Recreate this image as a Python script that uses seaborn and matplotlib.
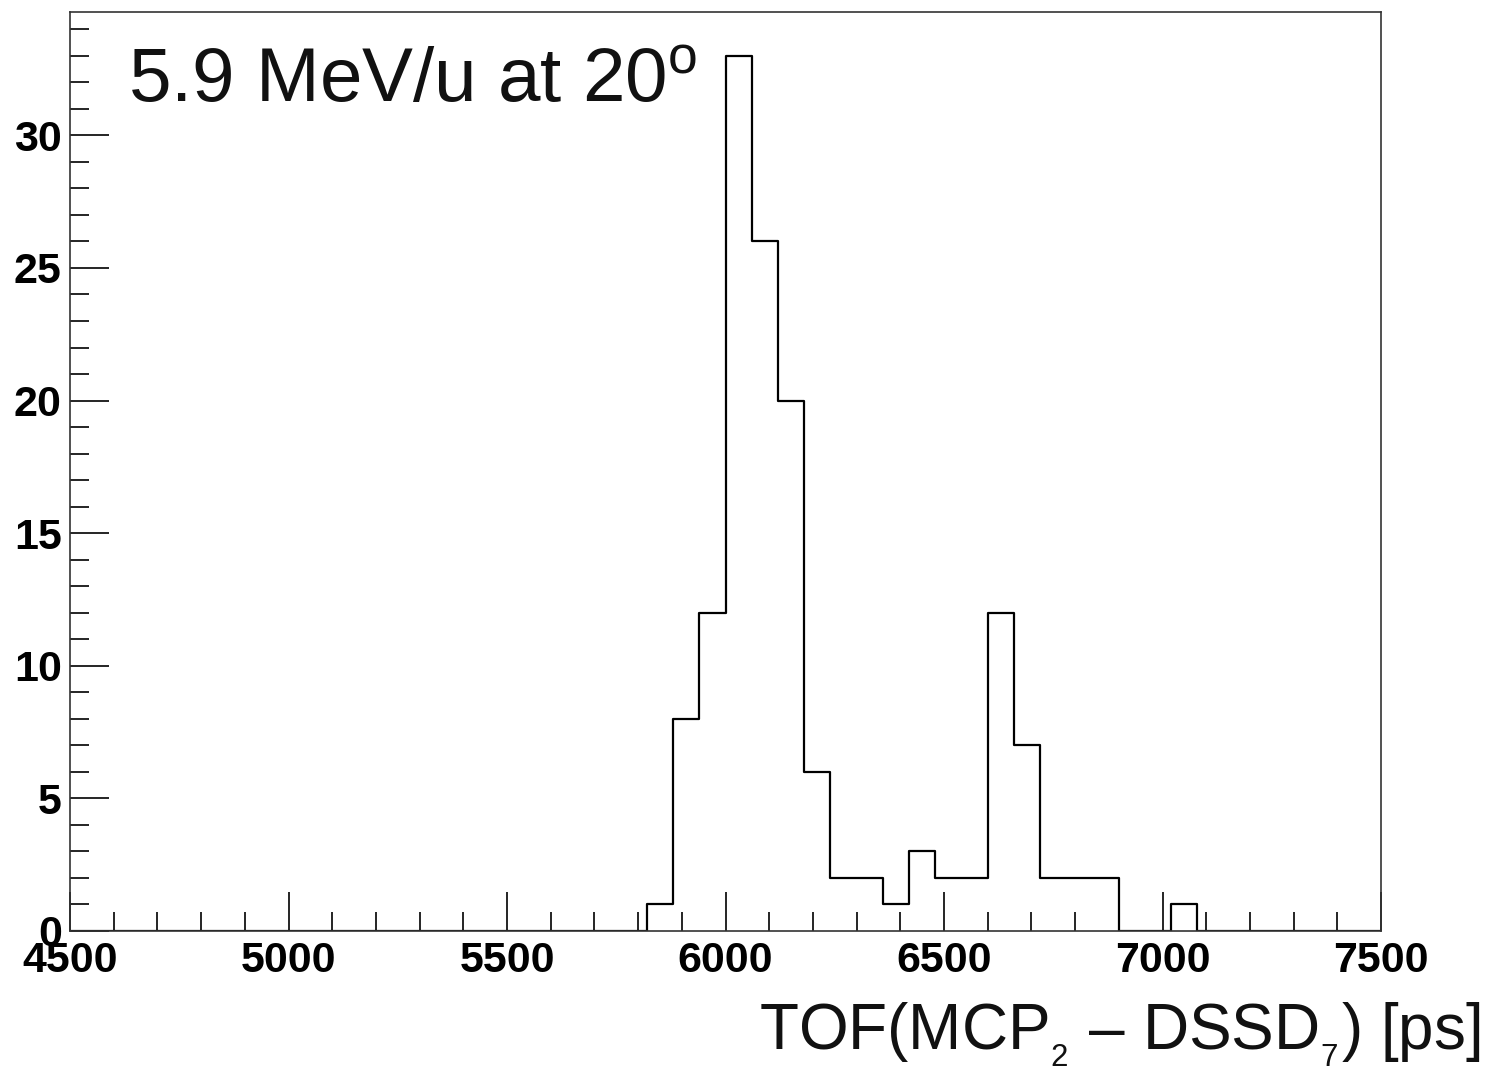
import numpy as np
import pandas as pd
import matplotlib
matplotlib.use("Agg")
import matplotlib.pyplot as plt
from matplotlib.ticker import MultipleLocator
import seaborn as sns

# histogram contents (bin width 60 ps, only non-empty bins listed)
bin_low = [5820, 5880, 5940, 6000, 6060, 6120, 6180, 6240, 6300, 6360,
           6420, 6480, 6540, 6600, 6660, 6720, 6780, 6840, 7020]
counts = [1, 8, 12, 33, 26, 20, 6, 2, 2, 1,
          3, 2, 2, 12, 7, 2, 2, 2, 1]
bin_width = 60
x_range = (4500, 7500)

title_text = "5.9 MeV/u at 20$^{\\mathrm{o}}$"
xlabel_text = "TOF(MCP$_{_{2}}$ – DSSD$_{_{7}}$) [ps]"

df = pd.DataFrame({"tof": np.array(bin_low) + bin_width / 2, "n": counts})

sns.set_style("white")
plt.rcParams["font.family"] = ["Liberation Sans", "DejaVu Sans"]
plt.rcParams["mathtext.fontset"] = "custom"
plt.rcParams["mathtext.rm"] = "Liberation Sans"
plt.rcParams["mathtext.it"] = "Liberation Sans:italic"

fig = plt.figure(figsize=(14.86, 10.73), dpi=100)
ax = fig.add_axes([70 / 1486, 1 - 931 / 1073, 1311 / 1486, 919 / 1073])

sns.histplot(data=df, x="tof", weights="n", binwidth=bin_width, binrange=x_range,
             element="step", fill=False, color="black", linewidth=1.6, ax=ax)

ax.set_xlim(*x_range)
ax.set_ylim(0, max(counts) * 1.05)

ax.xaxis.set_major_locator(MultipleLocator(500))
ax.xaxis.set_minor_locator(MultipleLocator(100))
ax.yaxis.set_major_locator(MultipleLocator(5))
ax.yaxis.set_minor_locator(MultipleLocator(1))
ax.tick_params(which="both", direction="in", color="black", width=1.2,
               bottom=True, left=True, top=False, right=False,
               labelcolor="black")
ax.tick_params(which="major", length=28, labelsize=31)
ax.tick_params(which="minor", length=14)
ax.tick_params(axis="x", which="major", pad=7)
ax.tick_params(axis="y", which="major", pad=6)
for lab in ax.get_xticklabels() + ax.get_yticklabels():
    lab.set_fontweight("bold")

for sp in ax.spines.values():
    sp.set_color("#333333")
    sp.set_linewidth(1.2)

ax.set_ylabel("")
ax.set_xlabel(xlabel_text, fontsize=46, color="#111111")
ax.xaxis.set_label_coords(1.0755, -0.1295)
ax.xaxis.label.set_ha("right")
ax.xaxis.label.set_va("baseline")

ax.text(0.0442, 0.902, title_text, transform=ax.transAxes, fontsize=55,
        color="#111111", ha="left", va="baseline")

fig.savefig("out.png", dpi=100)
